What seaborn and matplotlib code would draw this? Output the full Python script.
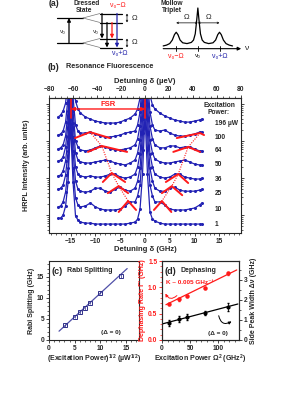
import numpy as np
import pandas as pd
import matplotlib
matplotlib.use("Agg")
import matplotlib.pyplot as plt
import seaborn as sns
from matplotlib.ticker import MultipleLocator, LogLocator, NullFormatter

# ---------------- data: panel (b) spectra ----------------
detuning_ghz = [-17.5, -17, -16.5, -16, -15.5, -15, -14.5, -14, -13.5, -13, -12, -11, -10,
                -9, -8, -7, -6, -5, -4, -3, -2, -1.5, -1, -0.5, 0, 0.5, 1, 1.5, 2, 3, 4,
                5, 6, 7, 8, 9, 10, 11, 11.5]
power_labels = ["196 µW", "100", "64", "50", "36", "25", "10", "1"]
trace_offsets = [306, 128, 54, 22.5, 9.4, 3.9, 1.37, 0.57]
spec_196 = [1.45, 1.65, 2.11, 3.47, 16.5, 505, 16.5, 3.93, 2.39, 1.86, 1.45, 1.28, 1.13, 1.06, 1.00,
            1.00, 1.00, 1.06, 1.21, 1.36, 1.75, 2.39, 4.74, 42.0, 940, 42.0, 5.71, 3.07, 2.39, 1.86,
            1.55, 1.36, 1.21, 1.13, 1.06, 1.06, 1.13, 1.21, 1.28]
spec_100 = [1.13, 1.21, 1.45, 2.54, 12.0, 505, 12.0, 2.11, 1.45, 1.28, 1.28, 1.36, 1.21, 1.06, 1.00,
            1.00, 1.06, 1.13, 1.28, 1.36, 1.45, 2.11, 4.74, 42.0, 940, 42.0, 4.74, 2.11, 1.55, 1.45,
            1.55, 1.28, 1.13, 1.06, 1.06, 1.13, 1.21, 1.36, 1.36]
spec_64 = [1.13, 1.21, 1.45, 2.54, 12.0, 505, 12.0, 1.86, 1.28, 1.06, 1.00, 1.06, 1.21, 1.36, 1.28,
           1.13, 1.06, 1.06, 1.13, 1.21, 1.45, 2.11, 4.74, 42.0, 940, 42.0, 4.74, 2.11, 1.45, 1.21,
           1.21, 1.36, 1.36, 1.21, 1.28, 1.28, 1.13, 1.00, 1.00]
spec_50 = [1.28, 1.36, 1.65, 3.07, 13.6, 505, 13.6, 2.11, 1.36, 1.21, 1.13, 1.13, 1.21, 1.28, 1.36,
           1.28, 1.13, 1.06, 1.00, 1.13, 1.36, 2.11, 4.74, 42.0, 940, 42.0, 4.74, 2.11, 1.45, 1.21,
           1.13, 1.13, 1.21, 1.28, 1.36, 1.21, 1.06, 1.00, 1.00]
spec_36 = [1.21, 1.28, 1.65, 3.07, 13.6, 505, 13.6, 2.11, 1.36, 1.21, 1.13, 1.21, 1.13, 1.13, 1.21,
           1.36, 1.36, 1.13, 1.06, 1.13, 1.36, 2.11, 4.74, 42.0, 940, 42.0, 4.74, 2.11, 1.36, 1.13,
           1.06, 1.13, 1.36, 1.36, 1.13, 1.06, 1.00, 1.00, 1.06]
spec_25 = [1.28, 1.36, 1.65, 3.07, 13.6, 505, 13.6, 2.11, 1.28, 1.13, 1.06, 1.13, 1.36, 1.36, 1.13,
           1.06, 1.28, 1.45, 1.21, 1.13, 1.36, 2.11, 4.74, 42.0, 940, 42.0, 4.74, 2.11, 1.36, 1.13,
           1.13, 1.36, 1.45, 1.21, 1.13, 1.13, 1.13, 1.21, 1.28]
spec_10 = [1.21, 1.28, 1.65, 3.07, 13.6, 505, 13.6, 2.11, 1.36, 1.21, 1.28, 1.55, 1.21, 1.06, 1.00,
           1.00, 1.00, 1.06, 1.28, 1.65, 1.65, 2.39, 4.74, 42.0, 940, 42.0, 4.74, 2.39, 1.65, 1.65,
           1.36, 1.06, 1.00, 1.00, 1.00, 1.06, 1.13, 1.36, 1.55]
spec_1 = [1.45, 1.45, 1.75, 3.07, 13.6, 505, 13.6, 1.65, 1.28, 1.13, 1.06, 1.06, 1.00, 1.00, 1.00,
          1.00, 1.00, 1.00, 1.00, 1.06, 1.13, 1.36, 2.54, 22.5, 940, 22.5, 2.11, 1.36, 1.21, 1.06,
          1.00, 1.00, 1.00, 1.00, 1.00, 1.00, 1.00, 1.00, 1.00]
spectra = [spec_196, spec_100, spec_64, spec_50, spec_36, spec_25, spec_10, spec_1]
assert all(len(s) == len(detuning_ghz) for s in spectra)

# Lorentzian side-peak fits (red), for traces 100, 64, 36, 25, 10
fit_trace_index = [1, 2, 4, 5, 6]
fit_left_x = [[-14.1, -11.1, -7.1], [-11.5, -8.7, -3.6], [-8.5, -6.7, -4.0], [-7.5, -5.3, -3.4], [-5.3, -3.4, -1.8]]
fit_left_r = [[0.94, 1.36, 0.94], [0.94, 1.36, 0.94], [0.83, 1.45, 0.83], [1.0, 1.55, 1.0], [0.88, 1.75, 1.0]]
fit_right_x = [[6.4, 11.1, 11.9], [5.7, 8.7, 11.1], [4.2, 6.7, 8.7], [3.4, 5.4, 7.5], [1.8, 3.4, 5.3]]
fit_right_r = [[0.94, 1.28, 1.13], [0.94, 1.28, 0.94], [0.83, 1.36, 0.78], [1.0, 1.55, 0.88], [1.0, 1.75, 0.88]]
fsr_ghz = [-14.9, 0.0]

# ---------------- data: panel (c) ----------------
sqrt_power = [3.16, 5.0, 6.0, 7.0, 8.0, 10.0, 14.0]
rabi_split = [3.5, 5.5, 6.6, 7.5, 8.8, 11.3, 15.2]
rabi_err = [0.3, 0.3, 0.3, 0.3, 0.3, 0.4, 0.5]
rabi_fit_x = [1.95, 15.2]
rabi_fit_y = [2.1, 17.0]

# ---------------- data: panel (d) ----------------
omega_sq = [12, 30, 44, 77, 117]
dephasing = [0.69, 0.77, 0.84, 0.99, 1.27]
dephasing_err = [0.02, 0.02, 0.02, 0.02, 0.03]
side_width = [0.85, 1.05, 1.15, 1.35, 1.65]
side_width_err = [0.15, 0.15, 0.13, 0.12, 0.2]
deph_fit_x = [7, 133]
deph_fit_y = [0.67, 1.33]
width_fit_x = [0, 135]
width_fit_y = [0.8, 1.8]

# ---------------- data: panel (a) schematic ----------------
bare_levels = [0.0, 1.0]
dressed_half_split = 0.18
mollow_nu = [-1.6, -1.45, -1.3, -1.18, -1.08, -1.0, -0.92, -0.82, -0.7, -0.5, -0.3, -0.2, -0.12,
             -0.06, 0.0, 0.06, 0.12, 0.2, 0.3, 0.5, 0.7, 0.82, 0.92, 1.0, 1.08, 1.18, 1.3, 1.45, 1.6]
mollow_int = [0.03, 0.05, 0.09, 0.18, 0.32, 0.38, 0.32, 0.18, 0.11, 0.09, 0.12, 0.18, 0.34,
              0.65, 1.0, 0.65, 0.34, 0.18, 0.12, 0.09, 0.11, 0.18, 0.32, 0.38, 0.32, 0.18, 0.09, 0.05, 0.03]

# ---------------- style ----------------
sns.set_style("ticks")
plt.rcParams["font.family"] = ["Liberation Sans", "DejaVu Sans"]
plt.rcParams.update({
    "font.weight": "bold",
    "axes.labelweight": "bold",
    "font.size": 5,
    "axes.linewidth": 0.8,
    "xtick.direction": "out",
    "ytick.direction": "out",
    "xtick.major.size": 2.2,
    "ytick.major.size": 2.2,
    "xtick.minor.size": 1.2,
    "ytick.minor.size": 1.2,
    "xtick.major.width": 0.6,
    "ytick.major.width": 0.6,
    "xtick.minor.width": 0.5,
    "ytick.minor.width": 0.5,
    "xtick.major.pad": 1.2,
    "ytick.major.pad": 1.2,
    "xtick.labelsize": 4.8,
    "ytick.labelsize": 4.8,
    "mathtext.fontset": "custom",
    "mathtext.rm": "Liberation Sans:bold",
    "mathtext.it": "Liberation Sans:bold",
    "mathtext.bf": "Liberation Sans:bold",
})

BLUE = "#2222b4"
RED = "#ff1a1a"
W, H = 307, 398


def rect(l, t, r, b):
    return [l / W, 1 - b / H, (r - l) / W, (b - t) / H]


def fxy(x, y):
    return x / W, 1 - y / H


fig = plt.figure(figsize=(W / 100, H / 100), dpi=100)

# ================= panel (a) =================
axe = fig.add_axes(rect(50, 0, 160, 60))
axe.set_xlim(-0.7, 10.3)
axe.set_ylim(-0.68, 1.72)
axe.axis("off")
h = dressed_half_split
for E in bare_levels:
    axe.plot([0, 2.6], [E, E], color="k", lw=0.9)
    axe.plot([2.6, 4.3], [E, E + h], color="#777777", lw=0.5)
    axe.plot([2.6, 4.3], [E, E - h], color="#777777", lw=0.5)
    axe.plot([4.3, 6.5], [E + h, E + h], color="k", lw=0.9)
    axe.plot([4.3, 6.5], [E - h, E - h], color="k", lw=0.9)
ap = dict(arrowstyle="-|>", lw=0.9, mutation_scale=5, shrinkA=0, shrinkB=0)
axe.annotate("", xy=(1.2, bare_levels[1]), xytext=(1.2, bare_levels[0]), arrowprops=dict(ap, color="k"))
axe.annotate("", xy=(4.5, bare_levels[0] + h), xytext=(4.5, bare_levels[1] + h), arrowprops=dict(ap, color="k"))
axe.annotate("", xy=(5.0, bare_levels[0] - h), xytext=(5.0, bare_levels[1] - h), arrowprops=dict(ap, color="k"))
axe.annotate("", xy=(5.5, bare_levels[0] + h), xytext=(5.5, bare_levels[1] - h), arrowprops=dict(ap, color=RED))
axe.annotate("", xy=(6.0, bare_levels[0] - h), xytext=(6.0, bare_levels[1] + h), arrowprops=dict(ap, color="#2222aa"))
for E in bare_levels:
    axe.annotate("", xy=(7.0, E + h), xytext=(7.0, E - h),
                 arrowprops=dict(arrowstyle="<->", lw=0.5, mutation_scale=3, shrinkA=0, shrinkB=0, color="k"))
    axe.text(7.5, E, "Ω", fontsize=5.5, va="center", ha="left", fontweight="normal")
axe.text(0.9, 0.45, "ν₀", fontsize=4.5, ha="right", va="center", fontweight="normal")
axe.text(4.2, 0.45, "ν₀", fontsize=4.5, ha="right", va="center", fontweight="normal")
axe.text(6.1, 1.38, "ν₀−Ω", fontsize=5, color=RED, ha="center", va="bottom", fontweight="normal")
axe.text(6.3, -0.28, "ν₀+Ω", fontsize=5, color="#2222aa", ha="center", va="top", fontweight="normal")

fig.text(*fxy(49, 4), "(a)", fontsize=6.3, ha="left", va="center", fontweight="bold")
fig.text(*fxy(87, 3.5), "Dressed", fontsize=4.8, ha="center", va="center")
fig.text(*fxy(84, 11), "State", fontsize=4.8, ha="center", va="center")

axm = fig.add_axes(rect(158, 0, 252, 60))
axm.set_xlim(-1.84, 2.5)
axm.set_ylim(-0.33, 1.205)
axm.axis("off")
sns.lineplot(x=mollow_nu, y=mollow_int, ax=axm, color="k", lw=0.9, estimator=None, sort=False)
axm.annotate("", xy=(2.0, -0.04), xytext=(-1.6, -0.04),
             arrowprops=dict(arrowstyle="-|>", lw=0.8, mutation_scale=5, color="k", shrinkA=0, shrinkB=0))
for nu in (-1, 0, 1):
    axm.plot([nu, nu], [-0.1, 0.02], color="k", lw=0.6)
for a, b in ((-1, 0), (0, 1)):
    axm.annotate("", xy=(b, 0.62), xytext=(a, 0.62),
                 arrowprops=dict(arrowstyle="<->", lw=0.5, mutation_scale=3, color="k", shrinkA=0, shrinkB=0))
    axm.text((a + b) / 2, 0.66, "Ω", fontsize=5.5, ha="center", va="bottom", fontweight="normal")
axm.text(2.15, -0.04, "ν", fontsize=6, ha="left", va="center", fontweight="normal")
axm.text(-1, -0.14, "ν₀−Ω", fontsize=5, color=RED, ha="center", va="top", fontweight="normal")
axm.text(0, -0.14, "ν₀", fontsize=4.5, color="k", ha="center", va="top", fontweight="normal")
axm.text(1, -0.14, "ν₀+Ω", fontsize=5, color="#2222aa", ha="center", va="top", fontweight="normal")
fig.text(*fxy(172, 3.5), "Mollow", fontsize=4.8, ha="center", va="center")
fig.text(*fxy(172, 11), "Triplet", fontsize=4.8, ha="center", va="center")

# ================= panel (b) =================
axb = fig.add_axes(rect(49, 98, 241, 233))
rows = []
for lab, off, spec in zip(power_labels, trace_offsets, spectra):
    for x, r in zip(detuning_ghz, spec):
        rows.append({"power": lab, "detuning": x, "intensity": off * r})
df = pd.DataFrame(rows)
sns.lineplot(data=df, x="detuning", y="intensity", units="power", estimator=None, sort=False,
             color=BLUE, lw=0.9, marker="o", markersize=2.2, markeredgewidth=0, ax=axb)
axb.set_yscale("log")
ylo, yhi = 0.327, 1452
axb.set_ylim(ylo, yhi)
xl = 80 * 0.24180
axb.set_xlim(-xl, xl)

# red fits and guides
lpk_x, lpk_y, rpk_x, rpk_y = [], [], [], []
for ti, lx, lr, rx, rr in zip(fit_trace_index, fit_left_x, fit_left_r, fit_right_x, fit_right_r):
    off = trace_offsets[ti]
    sns.lineplot(x=lx, y=[off * v for v in lr], ax=axb, color=RED, lw=1.4, estimator=None, sort=False)
    sns.lineplot(x=rx, y=[off * v for v in rr], ax=axb, color=RED, lw=1.4, estimator=None, sort=False)
    lpk_x.append(lx[1]); lpk_y.append(off * lr[1])
    rpk_x.append(rx[1]); rpk_y.append(off * rr[1])
axb.plot(lpk_x, lpk_y, color=RED, lw=0.8, ls=(0, (1, 1.2)))
axb.plot(rpk_x, rpk_y, color=RED, lw=0.8, ls=(0, (1, 1.2)))

# FSR marker
for f in fsr_ghz:
    axb.plot([f, f], [418, yhi], color=RED, lw=1.2)
axb.annotate("", xy=(fsr_ghz[0], 733), xytext=(fsr_ghz[1], 733),
             arrowprops=dict(arrowstyle="<|-|>", color=RED, lw=1.0, mutation_scale=5, shrinkA=0, shrinkB=0))
axb.text(np.mean(fsr_ghz), 800, "FSR", color=RED, fontsize=5.5, ha="center", va="bottom")

axb.text(14.9, 733, "Excitation\nPower:", fontsize=4.8, ha="center", va="center", linespacing=1.1)
for lab, off in zip(power_labels, trace_offsets):
    axb.text(14.1, off, lab, fontsize=4.8, ha="left", va="center")

axb.set_xlabel("Detuning δ (GHz)", fontsize=5.5, labelpad=1)
axb.set_ylabel("HRPL Intensity (arb. units)", fontsize=5.2, labelpad=9)
axb.xaxis.set_major_locator(MultipleLocator(5))
axb.xaxis.set_minor_locator(MultipleLocator(1))
axb.yaxis.set_major_locator(LogLocator(base=10))
axb.yaxis.set_minor_locator(LogLocator(base=10, subs=np.arange(2, 10)))
axb.yaxis.set_major_formatter(NullFormatter())
axb.yaxis.set_minor_formatter(NullFormatter())
axb.tick_params(axis="y", which="both", left=True, right=True)
sec = axb.secondary_xaxis("top", functions=(lambda g: g / 0.24180, lambda e: e * 0.24180))
sec.set_xticks(np.arange(-80, 81, 20))
sec.xaxis.set_minor_locator(MultipleLocator(5))
sec.set_xlabel("Detuning δ (µeV)", fontsize=5.5, labelpad=2)
sec.tick_params(which="both", direction="out")

fig.text(*fxy(48, 67), "(b)", fontsize=6.5, ha="left", va="center")
fig.text(*fxy(66, 67), "Resonance Fluorescence", fontsize=5.2, ha="left", va="center")

# ================= panel (c) =================
axc = fig.add_axes(rect(49, 261, 139, 340))
sns.lineplot(x=rabi_fit_x, y=rabi_fit_y, ax=axc, color="#5050a8", lw=0.9, estimator=None, sort=False)
axc.errorbar(sqrt_power, rabi_split, yerr=rabi_err, fmt="s", ms=2.6, mfc="none", mec="#30308a",
             mew=0.7, ecolor="#30308a", elinewidth=0.5, capsize=0)
axc.set_xlim(0, 17.5)
axc.set_ylim(0, 18.8)
axc.xaxis.set_major_locator(MultipleLocator(5))
axc.xaxis.set_minor_locator(MultipleLocator(1))
axc.yaxis.set_major_locator(MultipleLocator(5))
axc.yaxis.set_minor_locator(MultipleLocator(1))
axc.set_xlabel("(Excitation Power)$^{1/2}$ (µW$^{1/2}$)", fontsize=5, labelpad=1)
axc.set_ylabel("Rabi Splitting (GHz)", fontsize=5, labelpad=1.5)
axc.text(0.03, 0.93, "(c)", transform=axc.transAxes, fontsize=6.5, ha="left", va="top")
axc.text(0.2, 0.925, "Rabi Splitting", transform=axc.transAxes, fontsize=5, ha="left", va="top")
axc.text(12.1, 1.9, "(Δ = 0)", fontsize=4.6, ha="center", va="center")

# ================= panel (d) =================
axd = fig.add_axes(rect(162, 261, 239, 340))
sns.lineplot(x=deph_fit_x, y=deph_fit_y, ax=axd, color=RED, lw=0.9, estimator=None, sort=False)
axd.errorbar(omega_sq, dephasing, yerr=dephasing_err, fmt="o", ms=2.2, color=RED, mec=RED,
             elinewidth=0.5, capsize=0.8)
axd.set_xlim(0, 137)
axd.set_ylim(0, 1.5)
axd.xaxis.set_major_locator(MultipleLocator(50))
axd.xaxis.set_minor_locator(MultipleLocator(10))
axd.yaxis.set_major_locator(MultipleLocator(0.5))
axd.yaxis.set_minor_locator(MultipleLocator(0.1))
axd.yaxis.set_major_formatter(matplotlib.ticker.FormatStrFormatter("%.1f"))
axd.tick_params(axis="y", which="both", colors=RED)
axd.set_ylabel("Dephasing Rate Γ' (GHz)", fontsize=5, color=RED, labelpad=1.5)
axd.set_xlabel("Excitation Power Ω$^{2}$ (GHz$^{2}$)", fontsize=5, labelpad=1)
axd2 = axd.twinx()
sns.lineplot(x=width_fit_x, y=width_fit_y, ax=axd2, color="k", lw=0.9, estimator=None, sort=False)
axd2.errorbar(omega_sq, side_width, yerr=side_width_err, fmt="o", ms=2.0, color="k",
              elinewidth=0.6, capsize=1.0)
axd2.set_ylim(0, 3.95)
axd2.yaxis.set_major_locator(MultipleLocator(1))
axd2.yaxis.set_minor_locator(MultipleLocator(0.5))
axd2.set_ylabel("Side Peak Width Δν (GHz)", fontsize=5, rotation=90, labelpad=2)
axd2.tick_params(axis="y", which="both", direction="out")
axd.text(0.03, 0.93, "(d)", transform=axd.transAxes, fontsize=6.5, ha="left", va="top")
axd.text(0.24, 0.925, "Dephasing", transform=axd.transAxes, fontsize=5, ha="left", va="top")
axd.text(8, 1.1, "K ~ 0.005 GHz⁻¹", color=RED, fontsize=4.6, ha="left", va="center")
axd.annotate("", xy=(4, 0.93), xytext=(30, 0.88),
             arrowprops=dict(arrowstyle="-|>", color=RED, lw=0.7, mutation_scale=4,
                             connectionstyle="arc3,rad=-0.8"))
axd2.annotate("", xy=(128, 1.0), xytext=(100, 1.35),
              arrowprops=dict(arrowstyle="-|>", color="k", lw=0.7, mutation_scale=4,
                              connectionstyle="arc3,rad=0.8"))
axd.text(100, 0.13, "(Δ = 0)", fontsize=4.6, ha="center", va="center")

fig.savefig("out.png", dpi=100)
